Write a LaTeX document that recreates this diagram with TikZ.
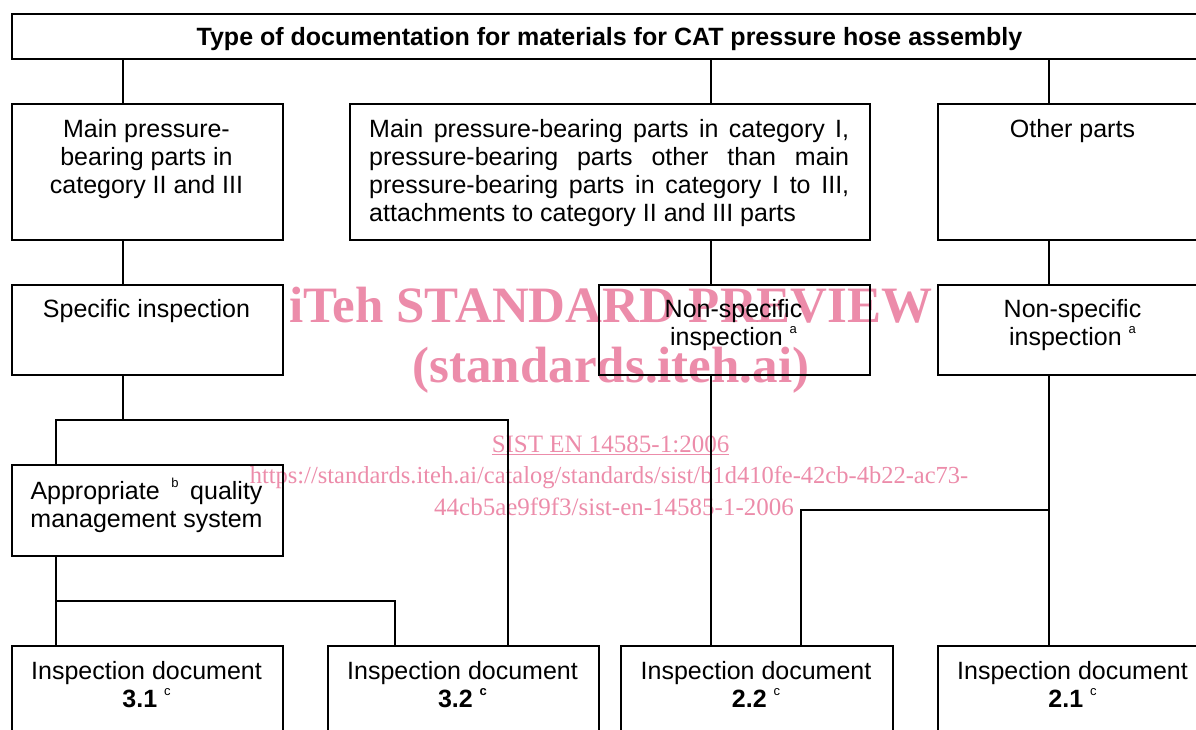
\documentclass[tikz,border=0pt]{standalone}
\usepackage{fontspec}
\setmainfont{Liberation Sans}
\newfontfamily\wmserif{Liberation Serif}

% small raised footnote marks
\newcommand\supmark[1]{\raisebox{12pt}{\fontsize{13}{13}\selectfont #1}}
% a line stretched to the full justified width
\newcommand\fillline[1]{\makebox[480pt][s]{#1}}

\definecolor{wmpink}{RGB}{236,140,170}

\begin{document}
\begin{tikzpicture}[x=1pt,y=-1pt,
  box/.style={draw, line width=1.5pt, rectangle, inner sep=0pt, anchor=north west},
  link/.style={line width=1.5pt},
  lbl/.style={inner sep=0pt, anchor=north, align=center, font=\fontsize{25}{28}\selectfont},
  wm/.style={inner sep=0pt, anchor=base, text=wmpink},
]
\useasboundingbox (0,0) rectangle (1196,729);
\clip (0,0) rectangle (1196,729);

% ---- boxes ----
\node[box, minimum width=1197pt, minimum height=45pt]  (T)   at (11,13)   {};
\node[box, minimum width=271pt,  minimum height=136pt] (A)   at (11,103)  {};
\node[box, minimum width=520pt,  minimum height=136pt] (B)   at (349,103) {};
\node[box, minimum width=271pt,  minimum height=136pt] (C)   at (937,103) {};
\node[box, minimum width=271pt,  minimum height=90pt]  (D)   at (11,284)  {};
\node[box, minimum width=271pt,  minimum height=90pt]  (E)   at (598,284) {};
\node[box, minimum width=271pt,  minimum height=90pt]  (F)   at (937,284) {};
\node[box, minimum width=271pt,  minimum height=91pt]  (G)   at (11,464)  {};
\node[box, minimum width=271pt,  minimum height=120pt] (H31) at (11,645)  {};
\node[box, minimum width=271pt,  minimum height=120pt] (H32) at (327,645) {};
\node[box, minimum width=272pt,  minimum height=120pt] (H22) at (620,645) {};
\node[box, minimum width=271pt,  minimum height=120pt] (H21) at (937,645) {};

% ---- texts ----
\node[inner sep=0pt, anchor=base, font=\fontsize{25}{28}\selectfont\bfseries] (tT) at (609.5,45.5)
  {Type of documentation for materials for CAT pressure hose assembly};
\node[lbl] (tA) at (146.5,117.4) {\strut Main pressure-\\bearing parts in\\category II and III};
\node[lbl, anchor=north west, align=left] (tB) at (369,117.4)
  {\strut\fillline{Main pressure-bearing parts in category I,}\\
   \fillline{pressure-bearing parts other than main}\\
   \fillline{pressure-bearing parts in category I to III,}\\
   attachments to category II and III parts};
\node[lbl] (tC) at (1072.5,117.4) {\strut Other parts};
\node[lbl] (tD) at (146.5,297.4) {\strut Specific inspection};
\node[lbl] (tE) at (733.5,297.4) {\strut Non-specific\\inspection \supmark{a}};
\node[lbl] (tF) at (1072.5,297.4) {\strut Non-specific\\inspection \supmark{a}};
\node[lbl] (tG) at (146.5,477.4)
  {\strut\makebox[232pt][s]{Appropriate \supmark{b} quality}\\management system};
\node[lbl] (tH31) at (146.5,659.4) {\strut Inspection document\\\textbf{3.1} \supmark{c}};
\node[lbl] (tH32) at (462.5,659.4) {\strut Inspection document\\\textbf{3.2} \supmark{\textbf{c}}};
\node[lbl] (tH22) at (756,659.4)   {\strut Inspection document\\\textbf{2.2} \supmark{c}};
\node[lbl] (tH21) at (1072.5,659.4) {\strut Inspection document\\\textbf{2.1} \supmark{c}};

% ---- connector columns and junctions ----
\coordinate (cA) at (123,0);
\coordinate (cB) at (711,0);
\coordinate (cC) at (1049,0);
\coordinate (cL) at (56,0);
\coordinate (cM) at (508,0);
\coordinate (cN) at (395,0);
\coordinate (cP) at (801,0);
\coordinate (jD)  at (123,420);
\coordinate (jDL) at (56,420);
\coordinate (jDR) at (508,420);
\coordinate (jG)  at (56,601);
\coordinate (jGR) at (395,601);
\coordinate (jF)  at (1049,510);
\coordinate (jFL) at (801,510);

% ---- connectors ----
\draw[link] (T.south -| cA) -- (A.north -| cA);
\draw[link] (T.south -| cB) -- (B.north -| cB);
\draw[link] (T.south -| cC) -- (C.north -| cC);
\draw[link] (A.south -| cA) -- (D.north -| cA);
\draw[link] (B.south -| cB) -- (E.north -| cB);
\draw[link] (C.south -| cC) -- (F.north -| cC);
\draw[link] (D.south -| cA) -- (jD);
\draw[link] (G.north -| cL) -- (jDL) -- (jDR) -- (H32.north -| cM);
\draw[link] (G.south -| cL) -- (H31.north -| cL);
\draw[link] (jG) -- (jGR) -- (H32.north -| cN);
\draw[link] (E.south -| cB) -- (H22.north -| cB);
\draw[link] (F.south -| cC) -- (H21.north -| cC);
\draw[link] (jF) -- (jFL) -- (H22.north -| cP);

% ---- watermark ----
\begin{scope}[blend mode=multiply]
\node[wm, font=\wmserif\bfseries\fontsize{51}{51}\selectfont] (wm1) at (611,322) {iTeh STANDARD PREVIEW};
\node[wm, font=\wmserif\bfseries\fontsize{51}{51}\selectfont] (wm2) at (611,382) {(standards.iteh.ai)};
\node[wm, font=\wmserif\fontsize{25}{25}\selectfont] (wm3) at (610.5,452) {\underline{SIST EN 14585-1:2006}};
\node[wm, font=\wmserif\fontsize{24.5}{25}\selectfont] (wm4) at (609,483)
  {https://standards.iteh.ai/catalog/standards/sist/b1d410fe-42cb-4b22-ac73-};
\node[wm, font=\wmserif\fontsize{25}{25}\selectfont] (wm5) at (614,515) {44cb5ae9f9f3/sist-en-14585-1-2006};
\end{scope}
\end{tikzpicture}
\end{document}
